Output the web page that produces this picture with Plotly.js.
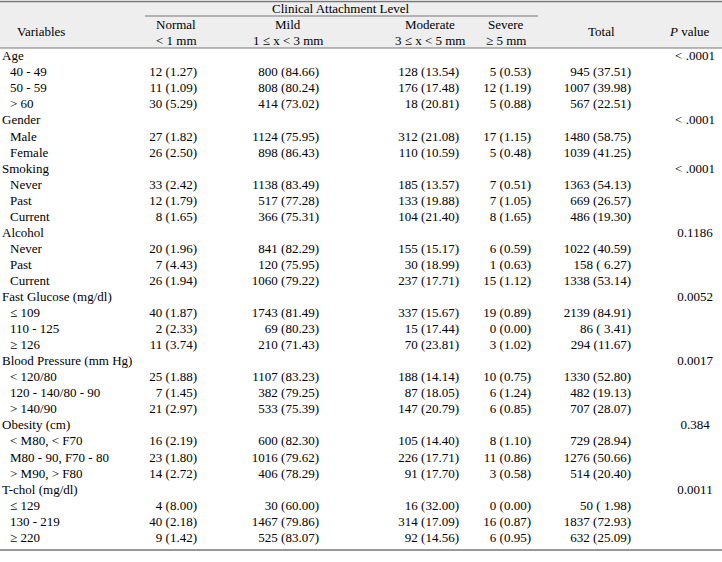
<!DOCTYPE html>
<html>
<head>
<meta charset="utf-8">
<script src="https://cdn.plot.ly/plotly-3.0.1.min.js"></script>
<style>html,body{margin:0;padding:0;background:#fff;}#chart{width:722px;height:562px;}</style>
</head>
<body>
<div id="chart"></div>
<script>
// ---------- DATA ----------
const groups = ["Age", "Gender", "Smoking", "Alcohol", "Fast Glucose (mg/dl)", "Blood Pressure (mm Hg)", "Obesity (cm)", "T-chol (mg/dl)"];
const pValues = ["< .0001", "< .0001", "< .0001", "0.1186", "0.0052", "0.0017", "0.384", "0.0011"];
const subcategories = [
  ["40 - 49", "50 - 59", "> 60"],
  ["Male", "Female"],
  ["Never", "Past", "Current"],
  ["Never", "Past", "Current"],
  ["\u2264 109", "110 - 125", "\u2265 126"],
  ["< 120/80", "120 - 140/80 - 90", "> 140/90"],
  ["< M80, < F70", "M80 - 90, F70 - 80", "> M90, > F80"],
  ["\u2264 129", "130 - 219", "\u2265 220"]
];
const normalN   = [12, 11, 30, 27, 26, 33, 12, 8, 20, 7, 26, 40, 2, 11, 25, 7, 21, 16, 23, 14, 4, 40, 9];
const normalPct = [1.27, 1.09, 5.29, 1.82, 2.50, 2.42, 1.79, 1.65, 1.96, 4.43, 1.94, 1.87, 2.33, 3.74, 1.88, 1.45, 2.97, 2.19, 1.80, 2.72, 8.00, 2.18, 1.42];
const mildN     = [800, 808, 414, 1124, 898, 1138, 517, 366, 841, 120, 1060, 1743, 69, 210, 1107, 382, 533, 600, 1016, 406, 30, 1467, 525];
const mildPct   = [84.66, 80.24, 73.02, 75.95, 86.43, 83.49, 77.28, 75.31, 82.29, 75.95, 79.22, 81.49, 80.23, 71.43, 83.23, 79.25, 75.39, 82.30, 79.62, 78.29, 60.00, 79.86, 83.07];
const moderateN   = [128, 176, 18, 312, 110, 185, 133, 104, 155, 30, 237, 337, 15, 70, 188, 87, 147, 105, 226, 91, 16, 314, 92];
const moderatePct = [13.54, 17.48, 20.81, 21.08, 10.59, 13.57, 19.88, 21.40, 15.17, 18.99, 17.71, 15.67, 17.44, 23.81, 14.14, 18.05, 20.79, 14.40, 17.71, 17.70, 32.00, 17.09, 14.56];
const severeN   = [5, 12, 5, 17, 5, 7, 7, 8, 6, 1, 15, 19, 0, 3, 10, 6, 6, 8, 11, 3, 0, 16, 6];
const severePct = [0.53, 1.19, 0.88, 1.15, 0.48, 0.51, 1.05, 1.65, 0.59, 0.63, 1.12, 0.89, 0.00, 1.02, 0.75, 1.24, 0.85, 1.10, 0.86, 0.58, 0.00, 0.87, 0.95];
const totalN    = [945, 1007, 567, 1480, 1039, 1363, 669, 486, 1022, 158, 1338, 2139, 86, 294, 1330, 482, 707, 729, 1276, 514, 50, 1837, 632];
const totalPct  = [37.51, 39.98, 22.51, 58.75, 41.25, 54.13, 26.57, 19.30, 40.59, 6.27, 53.14, 84.91, 3.41, 11.67, 52.80, 19.13, 28.07, 28.94, 50.66, 20.40, 1.98, 72.93, 25.09];
const headerTop = "Clinical Attachment Level";
const levelNames = ["Normal", "Mild", "Moderate", "Severe"];
const levelRanges = ["< 1 mm", "1 \u2264 x < 3 mm", "3 \u2264 x < 5 mm", "\u2265 5 mm"];

// ---------- LAYOUT CONFIG ----------
const FONT = "'Liberation Serif', 'Times New Roman', Times, serif";
const FS = 13;
const INK = "#000000";
const ROW0 = 57, ROWH = 16.05;           // pixel centre of first body row, row pitch
const py = p => (p - ROW0) / ROWH;       // pixel y -> row units
const colX = {group: 2, sub: 10, normal: 197, mild: 319, moderate: 459, severe: 531, total: 631, p: 695};
const hdrX = {vars: 41, normal: 176, mild: 288, moderate: 430, severe: 506, total: 601, p: 689, span: 341};

// ---------- BUILD ROWS ----------
const fmt = (n, p) => n + " (" + p.toFixed(2) + ")";
const fmtT = (n, p) => { const s = p.toFixed(2); return n + " (" + (s.length < 5 ? " " + s : s) + ")"; };
const grpY = [], grpT = [], pT = [], subY = [], subT = [];
const cN = [], cM = [], cMo = [], cS = [], cT = [];
let r = 0, k = 0;
groups.forEach((g, gi) => {
  grpY.push(r); grpT.push(g); pT.push(pValues[gi]); r++;
  subcategories[gi].forEach(s => {
    subY.push(r); subT.push(s);
    cN.push(fmt(normalN[k], normalPct[k]));
    cM.push(fmt(mildN[k], mildPct[k]));
    cMo.push(fmt(moderateN[k], moderatePct[k]));
    cS.push(fmt(severeN[k], severePct[k]));
    cT.push(fmtT(totalN[k], totalPct[k]));
    r++; k++;
  });
});

function textTrace(x, ys, texts, pos) {
  return {
    type: "scatter", mode: "text", x: ys.map(() => x), y: ys, text: texts,
    textposition: pos, cliponaxis: false, hoverinfo: "skip", showlegend: false,
    textfont: {family: FONT, size: FS, color: INK}
  };
}
const data = [
  textTrace(colX.group, grpY, grpT, "middle right"),
  textTrace(colX.sub, subY, subT, "middle right"),
  textTrace(colX.normal, subY, cN, "middle left"),
  textTrace(colX.mild, subY, cM, "middle left"),
  textTrace(colX.moderate, subY, cMo, "middle left"),
  textTrace(colX.severe, subY, cS, "middle left"),
  textTrace(colX.total, subY, cT, "middle left"),
  textTrace(colX.p, grpY, pT, "middle center")
];

const ann = (x, p, t) => ({x: x, y: py(p), xref: "x", yref: "y", text: t, showarrow: false,
  xanchor: "center", yanchor: "middle", font: {family: FONT, size: FS, color: INK}});
const annotations = [
  ann(hdrX.span, 8, headerTop),
  ann(hdrX.vars, 31, "Variables"),
  ann(hdrX.total, 31, "Total"),
  ann(hdrX.p, 31, "<i>P</i> value"),
  ann(hdrX.normal, 24, levelNames[0]), ann(hdrX.mild, 24, levelNames[1]),
  ann(hdrX.moderate, 24, levelNames[2]), ann(hdrX.severe, 24, levelNames[3]),
  ann(hdrX.normal, 40, levelRanges[0]), ann(hdrX.mild, 40, levelRanges[1]),
  ann(hdrX.moderate, 40, levelRanges[2]), ann(hdrX.severe, 40, levelRanges[3])
];
const hline = (x0, x1, p, w, c) => ({type: "line", xref: "x", yref: "y", x0: x0, x1: x1, y0: py(p), y1: py(p), line: {color: c, width: w}});
const shapes = [
  {type: "rect", xref: "x", yref: "y", x0: 0, x1: 722, y0: py(1.5), y1: py(48), fillcolor: "#eeeeee", line: {width: 0}, layer: "below"},
  hline(0, 722, 1.5, 1.5, "#777777"),
  hline(145, 538, 16, 1, "#777777"),
  hline(0, 722, 48, 1, "#777777"),
  hline(0, 722, 550, 1.5, "#777777")
];

const layout = {
  width: 722, height: 562, margin: {l: 0, r: 0, t: 0, b: 0},
  paper_bgcolor: "#fff", plot_bgcolor: "#fff",
  xaxis: {range: [0, 722], visible: false, fixedrange: true},
  yaxis: {range: [py(562), py(0)], visible: false, fixedrange: true},
  annotations: annotations, shapes: shapes, showlegend: false
};
Plotly.newPlot("chart", data, layout, {displayModeBar: false, staticPlot: true});
</script>
</body>
</html>
